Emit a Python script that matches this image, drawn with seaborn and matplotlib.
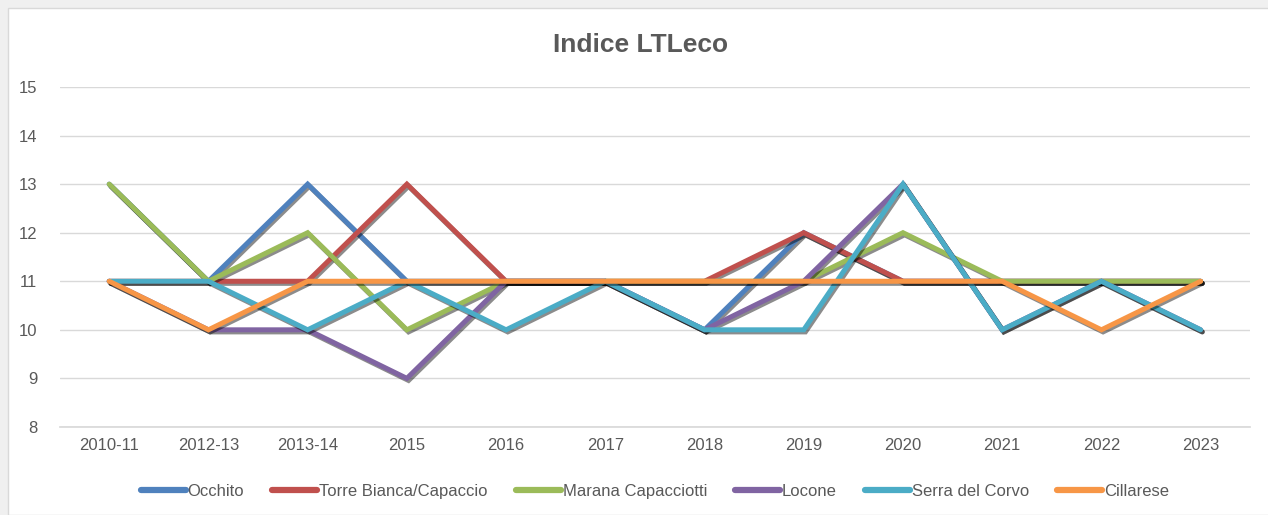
import pandas as pd
import matplotlib
matplotlib.use("Agg")
import matplotlib.pyplot as plt
import matplotlib.patheffects as pe
from matplotlib.patches import Rectangle
import seaborn as sns

# ---------- DATA ----------
years = ["2010-11", "2012-13", "2013-14", "2015", "2016", "2017",
         "2018", "2019", "2020", "2021", "2022", "2023"]
occhito = [13, 11, 13, 11, 11, 11, 10, 12, 11, 11, 11, 11]
torre_bianca = [11, 11, 11, 13, 11, 11, 11, 12, 11, 11, 11, 11]
marana = [13, 11, 12, 10, 11, 11, 11, 11, 12, 11, 11, 11]
locone = [11, 10, 10, 9, 11, 11, 10, 11, 13, 10, 11, 10]
serra = [11, 11, 10, 11, 10, 11, 10, 10, 13, 10, 11, 10]
cillarese = [11, 10, 11, 11, 11, 11, 11, 11, 11, 11, 10, 11]

series = {
    "Occhito": occhito,
    "Torre Bianca/Capaccio": torre_bianca,
    "Marana Capacciotti": marana,
    "Locone": locone,
    "Serra del Corvo": serra,
    "Cillarese": cillarese,
}
colors = ["#4F81BD", "#C0504D", "#9BBB59", "#8064A2", "#4BACC6", "#F79646"]

df = pd.concat(
    [pd.DataFrame({"Anno": years, "Valore": v, "Lago": k}) for k, v in series.items()],
    ignore_index=True,
)

# ---------- STYLE ----------
sns.set_theme(style="white")
plt.rcParams["font.family"] = ["Liberation Sans", "DejaVu Sans"]
TXT = "#595959"

fig = plt.figure(figsize=(12.68, 5.15), dpi=100, facecolor="#f0f0f0")
fig.patches.append(Rectangle((8 / 1268, 0), 1, 1 - 8 / 515, transform=fig.transFigure,
                             facecolor="white", edgecolor="#d9d9d9", lw=1, zorder=-1))
ax = fig.add_axes([0.047, 0.171, 0.939, 0.66])
ax.set_facecolor("none")

sns.lineplot(data=df, x="Anno", y="Valore", hue="Lago", palette=colors,
             sort=False, linewidth=3.6, ax=ax, legend=True)

for line in ax.get_lines():
    line.set_path_effects([pe.SimpleLineShadow(offset=(1.2, -1.5), shadow_color="black", alpha=0.45),
                           pe.Normal()])
    line.set_solid_joinstyle("miter")

ax.set_ylim(8, 15)
ax.set_xlim(-0.5, len(years) - 0.5)
ax.set_yticks(range(8, 16))
ax.yaxis.grid(True, color="#d9d9d9", lw=1)
ax.set_axisbelow(True)
for s in ["left", "right", "top"]:
    ax.spines[s].set_visible(False)
ax.spines["bottom"].set_color("#d9d9d9")
ax.tick_params(axis="both", colors=TXT, labelsize=12, length=0, pad=8)
ax.tick_params(axis="y", pad=16)
ax.set_xlabel("")
ax.set_ylabel("")

fig.text(0.505, 0.913, "Indice LTLeco", ha="center", va="center",
         fontsize=19, fontweight="bold", color=TXT)

handles, labels = ax.get_legend_handles_labels()
ax.legend(handles, labels, loc="center", bbox_to_anchor=(0.5, -0.19), ncol=6,
          frameon=False, fontsize=12, labelcolor=TXT, handlelength=2.7,
          handletextpad=0.1, columnspacing=1.7)
for h in ax.get_legend().get_lines():
    h.set_linewidth(4.5)
    h.set_path_effects([])

fig.savefig("out.png", dpi=100, facecolor=fig.get_facecolor())
